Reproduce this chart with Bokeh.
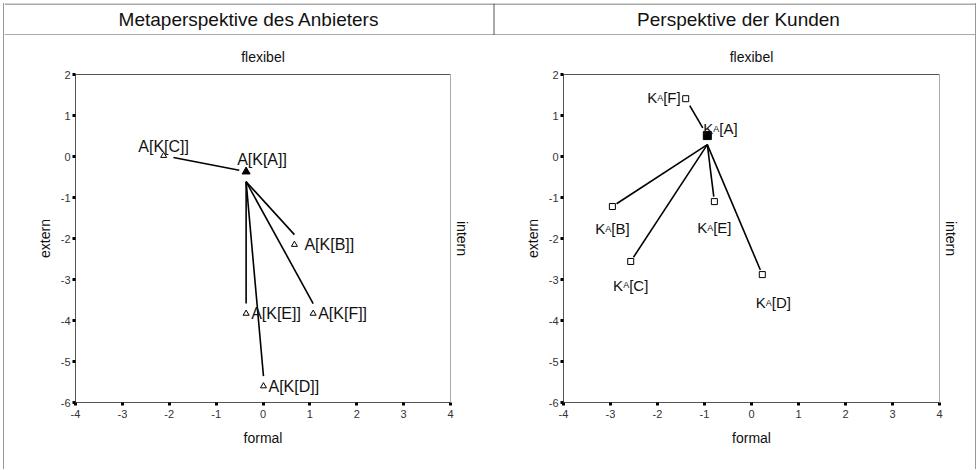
import math
from bokeh.plotting import figure
from bokeh.models import Range1d, LinearAxis, FixedTicker, ColumnDataSource, Div
from bokeh.layouts import row, column
from bokeh.embed import file_html
from bokeh.resources import INLINE
from bokeh.core.properties import value

# ---------------- data ----------------
panel_titles = ["Metaperspektive des Anbieters", "Perspektive der Kunden"]
label_top = "flexibel"
label_bottom = "formal"
label_left = "extern"
label_right = "intern"
x_ticks = [-4, -3, -2, -1, 0, 1, 2, 3, 4]
y_ticks = [-6, -5, -4, -3, -2, -1, 0, 1, 2]

left_names = ["A", "B", "C", "D", "E", "F"]
left_x = [-0.36, 0.67, -2.12, 0.01, -0.36, 1.07]
left_y = [-0.37, -2.15, 0.02, -5.60, -3.83, -3.83]

right_names = ["A", "B", "C", "D", "E", "F"]
right_x = [-0.94, -2.96, -2.57, 0.23, -0.79, -1.40]
right_y = [0.51, -1.22, -2.56, -2.88, -1.10, 1.41]

# ---------------- style ----------------
FONT = "Liberation Sans"
HDR_H = 32
BODY_H = 434
T, B = 39, 67
AXIS_COL = "#555555"
LIGHT_COL = "#aaaaaa"
BORDER_COL = "#999999"
HDR_COL = "#555555"
LBL = 16

ARIAL = {"K": .667, "A": .667, "B": .667, "C": .722, "D": .722, "E": .667,
         "F": .611, "[": .278, "]": .278}


def tw(s, size):
    return sum(ARIAL.get(c, .556) for c in s) * size


def style_axis(ax):
    ax.axis_line_color = AXIS_COL
    ax.axis_line_width = 1
    ax.major_tick_line_color = "black"
    ax.major_tick_line_width = 3
    ax.major_tick_out = 3
    ax.major_tick_in = 0
    ax.minor_tick_line_color = None
    ax.minor_tick_out = 0
    ax.minor_tick_in = 0
    ax.major_label_text_font = FONT
    ax.major_label_text_font_size = "11px"
    ax.major_label_text_color = "#333333"
    ax.axis_label_text_font = FONT
    ax.axis_label_text_font_size = "14px"
    ax.axis_label_text_font_style = "normal"
    ax.axis_label_text_color = "#111111"


def make_fig(W, L, R):
    p = figure(width=W, height=BODY_H,
               x_range=Range1d(x_ticks[0], x_ticks[-1]),
               y_range=Range1d(y_ticks[0], y_ticks[-1]),
               output_backend="svg", toolbar_location=None,
               min_border_left=L, min_border_right=R,
               min_border_top=T, min_border_bottom=B,
               background_fill_color="white", border_fill_color="white",
               outline_line_color=None)
    p.grid.visible = False

    xa = p.xaxis[0]
    style_axis(xa)
    xa.ticker = FixedTicker(ticks=x_ticks)
    xa.major_label_overrides = {t: str(t) for t in x_ticks}
    xa.major_label_standoff = 4
    xa.axis_label = label_bottom
    xa.axis_label_standoff = 9

    ya = p.yaxis[0]
    style_axis(ya)
    ya.ticker = FixedTicker(ticks=y_ticks)
    ya.major_label_overrides = {t: str(t) for t in y_ticks}
    ya.major_label_standoff = 2
    ya.axis_label = label_left
    ya.axis_label_standoff = 5

    top = LinearAxis(ticker=FixedTicker(ticks=[]), axis_label=label_top)
    style_axis(top)
    top.major_tick_out = 0
    top.axis_label_standoff = 10
    p.add_layout(top, "above")

    rt = LinearAxis(ticker=FixedTicker(ticks=[]), axis_label=label_right)
    style_axis(rt)
    rt.major_tick_out = 0
    rt.axis_line_color = LIGHT_COL
    rt.axis_label_standoff = 3
    p.add_layout(rt, "right")
    return p


def links(xs, ys, sx, sy, hub_gap, above_gaps, below_mode, below_gap):
    ax, ay = xs[0], ys[0]
    x0, y0, x1, y1 = [], [], [], []
    for x, y in zip(xs[1:], ys[1:]):
        if y > ay:
            dxp, dyp = (ax - x) * sx, (ay - y) * sy
            ln = math.hypot(dxp, dyp)
            ux, uy = dxp / ln, dyp / ln
            g1, g2 = above_gaps
            x0.append(x + g1 * ux / sx); y0.append(y + g1 * uy / sy)
            x1.append(ax - g2 * ux / sx); y1.append(ay - g2 * uy / sy)
        else:
            hx, hy = ax, ay - hub_gap / sy
            x0.append(hx); y0.append(hy)
            if below_mode == "vertical":
                x1.append(x); y1.append(y + below_gap / sy)
            else:
                dxp, dyp = (hx - x) * sx, (hy - y) * sy
                ln = math.hypot(dxp, dyp)
                x1.append(x + below_gap * dxp / ln / sx)
                y1.append(y + below_gap * dyp / ln / sy)
    return dict(x0=x0, y0=y0, x1=x1, y1=y1)


# ---------------- left panel ----------------
WL, LL, RL = 489, 71, 43
p1 = make_fig(WL, LL, RL)
sx1 = (WL - LL - RL) / (x_ticks[-1] - x_ticks[0])
sy1 = (BODY_H - T - B) / (y_ticks[-1] - y_ticks[0])
p1.segment("x0", "y0", "x1", "y1", source=ColumnDataSource(
    links(left_x, left_y, sx1, sy1, 10, (10, 7), "vertical", 10)),
    line_color="black", line_width=1.6)
p1.scatter(left_x[1:], left_y[1:], marker="triangle", size=6,
           fill_color="white", line_color="black", line_width=1)
p1.scatter(left_x[:1], left_y[:1], marker="triangle", size=8,
           fill_color="black", line_color="black")
l_off = {"A": (-9, -12, "left"), "C": (0, -9, "center"), "B": (10, 0, "left"),
         "D": (5, 0, "left"), "E": (5, 0, "left"), "F": (5, 0, "left")}
p1.text(x=left_x, y=left_y, text=[f"A[K[{n}]]" for n in left_names],
        x_offset=[l_off[n][0] for n in left_names],
        y_offset=[l_off[n][1] for n in left_names],
        text_align=[l_off[n][2] for n in left_names],
        text_baseline="middle", text_font=value(FONT), text_font_size=f"{LBL}px",
        text_color="#111111")

# ---------------- right panel ----------------
WR, LR, RR = 482, 70, 36
p2 = make_fig(WR, LR, RR)
sx2 = (WR - LR - RR) / (x_ticks[-1] - x_ticks[0])
sy2 = sy1
p2.segment("x0", "y0", "x1", "y1", source=ColumnDataSource(
    links(right_x, right_y, sx2, sy2, 9, (8, 9), "along", 5)),
    line_color="black", line_width=1.6)
p2.scatter(right_x[1:], right_y[1:], marker="square", size=6,
           fill_color="white", line_color="black", line_width=1)
p2.scatter(right_x[:1], right_y[:1], marker="square", size=8,
           fill_color="black", line_color="black")
r_off = {"A": (-4, -12, "left"), "F": (-5, -6, "right"), "B": (0, 17, "center"),
         "C": (0, 19, "center"), "E": (0, 21, "center"), "D": (11, 23, "center")}
SUB = 9
RL_SIZE = 15
parts = {"k": [], "s": [], "b": []}
offs = {"k": [], "s": [], "b": []}
yoffs = []
for n in right_names:
    xo, yo, al = r_off[n]
    w1, w2, w3 = tw("K", RL_SIZE), tw("A", SUB), tw(f"[{n}]", RL_SIZE)
    tot = w1 + w2 + w3
    start = xo if al == "left" else (xo - tot / 2 if al == "center" else xo - tot)
    offs["k"].append(start)
    offs["s"].append(start + w1)
    offs["b"].append(start + w1 + w2)
    parts["k"].append("K")
    parts["s"].append("A")
    parts["b"].append(f"[{n}]")
    yoffs.append(yo + 5)
for key, size in (("k", RL_SIZE), ("s", SUB), ("b", RL_SIZE)):
    p2.text(x=right_x, y=right_y, text=parts[key], x_offset=offs[key], y_offset=yoffs,
            text_align="left", text_baseline="alphabetic", text_font=value(FONT),
            text_font_size=f"{size}px", text_color="#111111")

# ---------------- header (table head) ----------------
HW = WL + WR
hdr = figure(width=HW, height=HDR_H, x_range=Range1d(0, HW), y_range=Range1d(0, HDR_H),
             output_backend="svg", toolbar_location=None,
             x_axis_type=None, y_axis_type=None,
             min_border_left=0, min_border_right=0, min_border_top=0, min_border_bottom=0,
             background_fill_color="white", border_fill_color="white",
             outline_line_color=None)
hdr.grid.visible = False
hdr.segment(x0=[0, 0, WL + 0.5], y0=[HDR_H - 0.5, 0.5, 0],
            x1=[HW, HW, WL + 0.5], y1=[HDR_H - 0.5, 0.5, HDR_H],
            line_color=HDR_COL, line_width=1)
hdr.text(x=[WL / 2, WL + WR / 2 + 4], y=[HDR_H - 16, HDR_H - 16], text=panel_titles,
         text_align="center", text_baseline="middle", text_font=value(FONT),
         text_font_size="19px", text_color="#111111")

bar_l = Div(text="", width=1, height=HDR_H + BODY_H, margin=0,
            styles={"background-color": BORDER_COL})
bar_r = Div(text="", width=1, height=HDR_H + BODY_H, margin=0,
            styles={"background-color": BORDER_COL})

layout = row(bar_l, column(hdr, row(p1, p2)), bar_r, margin=(3, 0, 0, 3))
open("out.html", "w").write(file_html(layout, INLINE))
